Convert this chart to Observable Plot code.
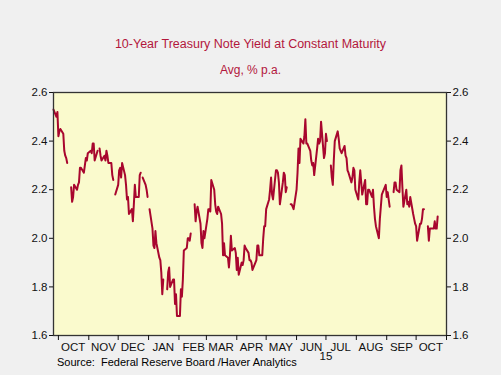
<!DOCTYPE html>
<html><head><meta charset="utf-8">
<script src="https://cdn.jsdelivr.net/npm/d3@7"></script>
<script src="https://cdn.jsdelivr.net/npm/@observablehq/plot@0.6"></script>
<style>
body{margin:0;background:#f0f0f0;}
#wrap{position:relative;width:501px;height:375px;background:#f0f0f0;font-family:"Liberation Sans",Arial,sans-serif;overflow:hidden}
.t{position:absolute;left:0;width:501px;text-align:center;color:#b3173c;line-height:1}
#title{top:38px;font-size:12.5px}
#sub{top:64px;font-size:12px}
#src{position:absolute;left:57px;top:357px;font-size:11px;color:#000;line-height:1;white-space:pre}
#chart{position:absolute;left:0;top:0}
</style></head><body>
<div id="wrap"><div id="chart"></div>
<div class="t" id="title">10-Year Treasury Note Yield at Constant Maturity</div>
<div class="t" id="sub">Avg, % p.a.</div>
<div id="src">Source:  Federal Reserve Board /Haver Analytics</div>
</div>
<script>
// Daily values (business days), null = holiday
const sep2014 = [2.53, 2.50, 2.52]; // from Sep 26
const oct2014 = [2.42, 2.44, 2.45, 2.43, 2.36, 2.34, 2.33, 2.31, null, 2.21, 2.15, 2.17, 2.22, 2.20, 2.22, 2.23, 2.29, 2.29, 2.27, 2.30, 2.33, 2.32, 2.35];
const nov2014 = [2.36, 2.35, 2.39, 2.39, 2.32, 2.36, null, 2.37, 2.34, 2.32, 2.34, 2.32, 2.36, 2.34, 2.31, 2.31, 2.26, 2.24, null, 2.18];
const dec2014 = [2.22, 2.28, 2.29, 2.25, 2.31, 2.26, 2.22, 2.16, 2.17, 2.10, 2.12, 2.07, 2.14, 2.22, 2.17, 2.17, 2.26, 2.27, null, 2.25, 2.22, 2.20, 2.17];
const jan2015 = [null, 2.12, 2.04, 1.97, 1.96, 2.03, 1.98, 1.92, 1.91, 1.86, 1.77, 1.83, null, 1.79, 1.86, 1.88, 1.80, 1.83, 1.83, 1.73, 1.77, 1.68];
const feb2015 = [1.68, 1.79, 1.76, 1.83, 1.95, 1.96, 2.00, 2.00, 1.99, 2.02, null, 2.14, 2.07, 2.11, 2.13, 2.06, 1.98, 1.96, 2.03, 2.00];
const mar2015 = [2.08, 2.12, 2.12, 2.11, 2.24, 2.20, 2.14, 2.11, 2.10, 2.13, 2.10, 2.06, 1.93, 1.98, 1.93, 1.92, 1.88, 1.93, 2.01, 1.95, 1.96, 1.94];
const apr2015 = [1.87, 1.92, 1.85, 1.90, 1.89, 1.91, 1.97, 1.96, 1.94, 1.91, 1.91, 1.90, 1.87, 1.90, 1.91, 1.97, 1.97, 1.93, 1.93, 2.00, 2.05, 2.05];
const may2015 = [2.12, 2.16, 2.20, 2.25, 2.18, 2.16, 2.28, 2.28, 2.27, 2.23, 2.14, 2.23, 2.27, 2.26, 2.19, 2.21, null, 2.14, 2.14, 2.13, 2.12];
const jun2015 = [2.20, 2.27, 2.37, 2.31, 2.41, 2.39, 2.42, 2.49, 2.39, 2.39, 2.36, 2.32, 2.30, 2.31, 2.26, 2.37, 2.41, 2.39, 2.40, 2.48, 2.33, 2.35];
const jul2015 = [2.43, 2.40, null, 2.30, 2.25, 2.22, 2.32, 2.40, 2.44, 2.41, 2.37, 2.36, 2.35, 2.38, 2.34, 2.33, 2.28, 2.27, 2.23, 2.25, 2.29, 2.28, 2.20];
const aug2015 = [2.16, 2.23, 2.28, 2.23, 2.18, 2.24, 2.14, 2.14, 2.20, 2.20, 2.17, 2.20, 2.13, 2.08, 2.05, 2.00, 2.08, 2.13, 2.18, 2.19, 2.22];
const sep2015 = [2.17, 2.19, 2.16, 2.13, null, 2.19, 2.23, 2.23, 2.20, 2.19, 2.28, 2.30, 2.21, 2.13, 2.20, 2.14, 2.15, 2.13, 2.17, 2.10, 2.08, 2.06];
const oct2015 = [2.05, 1.99, 2.06, 2.06, 2.08, 2.12, 2.12, null, 2.05, 1.99, 2.04, 2.04, 2.04, 2.07, 2.04, 2.04, 2.09];

// [year, month index, first day, values]
const series = [
  [2014, 8, 26, sep2014], [2014, 9, 1, oct2014], [2014, 10, 1, nov2014], [2014, 11, 1, dec2014],
  [2015, 0, 1, jan2015], [2015, 1, 1, feb2015], [2015, 2, 1, mar2015], [2015, 3, 1, apr2015],
  [2015, 4, 1, may2015], [2015, 5, 1, jun2015], [2015, 6, 1, jul2015], [2015, 7, 1, aug2015],
  [2015, 8, 1, sep2015], [2015, 9, 1, oct2015]
];

const monthLabels = ["OCT","NOV","DEC","JAN","FEB","MAR","APR","MAY","JUN","JUL","AUG","SEP","OCT"];
const labelMonths = [[2014,9],[2014,10],[2014,11],[2015,0],[2015,1],[2015,2],[2015,3],[2015,4],[2015,5],[2015,6],[2015,7],[2015,8],[2015,9]];
const yTicks = [1.6, 1.8, 2.0, 2.2, 2.4, 2.6];
const yearLabel = "15";

function weekdays(y, m, d0, n) {
  const out = [];
  const d = new Date(Date.UTC(y, m, d0));
  while (out.length < n) {
    const w = d.getUTCDay();
    if (w !== 0 && w !== 6) out.push(new Date(d));
    d.setUTCDate(d.getUTCDate() + 1);
  }
  return out;
}
const data = [];
for (const [y, m, d0, vals] of series) {
  const ds = weekdays(y, m, d0, vals.length);
  vals.forEach((v, i) => data.push({date: ds[i], value: v}));
}
const monthStarts = labelMonths.map(([y, m]) => new Date(Date.UTC(y, m, 1))).concat([new Date(Date.UTC(2015, 10, 1))]);
const monthMids = labelMonths.map(([y, m]) => new Date(Date.UTC(y, m, 16)));

const fmt = d3.format(".1f");
const chart = Plot.plot({
  width: 501, height: 375,
  marginLeft: 53, marginRight: 55, marginTop: 92, marginBottom: 40,
  style: {background: "transparent", fontFamily: "'Liberation Sans', Arial, sans-serif", fontSize: "11.5px", color: "#111"},
  x: {type: "utc", domain: [new Date(Date.UTC(2014, 8, 26)), new Date(Date.UTC(2015, 10, 1))]},
  y: {domain: [1.6, 2.6]},
  marks: [
    Plot.frame({fill: "#fafacd", stroke: null}),
    Plot.lineY(data, {x: "date", y: "value", stroke: "#a8062e", strokeWidth: 2, strokeLinejoin: "round"}),
    Plot.frame({stroke: "#333", strokeWidth: 1.3}),
    Plot.axisY({anchor: "left", ticks: yTicks, tickFormat: fmt, tickSize: 4, tickPadding: 2, label: null, stroke: "#111"}),
    Plot.axisY({anchor: "right", ticks: yTicks, tickFormat: fmt, tickSize: 4, tickPadding: 2, label: null, stroke: "#111"}),
    Plot.axisX({ticks: monthStarts, tickFormat: () => "", tickSize: 5, label: null, stroke: "#111"}),
    Plot.text(monthLabels, {x: (d, i) => monthMids[i], frameAnchor: "bottom", dy: 15, fill: "#111"}),
    Plot.text([yearLabel], {x: () => new Date(Date.UTC(2015, 6, 1)), frameAnchor: "bottom", dy: 24, fill: "#111"})
  ]
});
document.getElementById("chart").appendChild(chart);
</script>
</body></html>
